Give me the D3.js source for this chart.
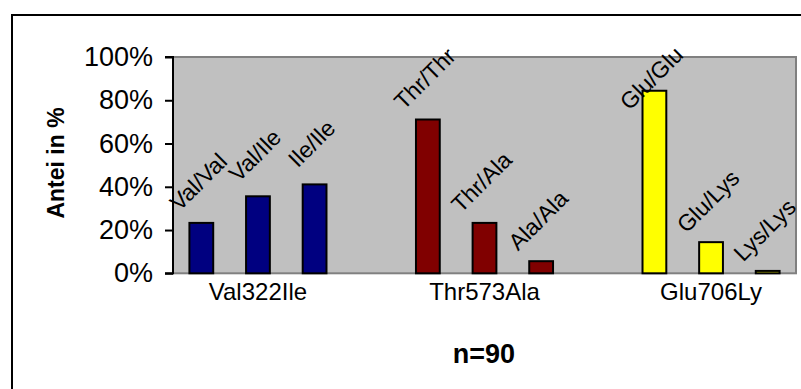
<!DOCTYPE html>
<html>
<head>
<meta charset="utf-8">
<script src="https://cdn.jsdelivr.net/npm/d3@7"></script>
<style>
  html, body { margin: 0; padding: 0; background: #fff; }
  svg { display: block; }
  text { font-family: "Liberation Sans", Arial, sans-serif; fill: #000; }
</style>
</head>
<body>
<svg id="chart" width="801" height="389"></svg>
<script>
// Genotype frequencies (share of n = 90 individuals, in %)
const polymorphisms = ["Val322Ile", "Thr573Ala", "Glu706Ly"];
const genotypes = [
  ["Val/Val", "Val/Ile", "Ile/Ile"],
  ["Thr/Thr", "Thr/Ala", "Ala/Ala"],
  ["Glu/Glu", "Glu/Lys", "Lys/Lys"]
];
const shares = [
  [23.3, 35.6, 41.1],
  [71.1, 23.3, 5.6],
  [84.4, 14.4, 1.1]
];
const groupColors = ["#000080", "#800000", "#ffff00"];
const yTicks = [0, 20, 40, 60, 80, 100];
const yTitle = "Antei in %";
const footnote = "n=90";

const svg = d3.select("#chart");
const W = 801, H = 389;
const plot = { left: 173, right: 796, top: 57, bottom: 273.3 };

// one slot per genotype plus an empty slot between polymorphisms
const slots = [];
genotypes.forEach((g, gi) => {
  g.forEach((name, k) => slots.push({ key: name, name, group: gi, idx: k, value: shares[gi][k] }));
  if (gi < genotypes.length - 1) slots.push({ key: "gap" + gi, gap: true });
});

const x = d3.scaleBand()
  .domain(slots.map(d => d.key))
  .range([plot.left, plot.right])
  .paddingInner(0).paddingOuter(0);

const y = d3.scaleLinear().domain([0, 100]).range([plot.bottom, plot.top]);

// outer chart frame
svg.append("rect")
  .attr("x", 12).attr("y", 15)
  .attr("width", W).attr("height", H)
  .attr("fill", "#fff").attr("stroke", "#000").attr("stroke-width", 2);

// plot background
svg.append("rect")
  .attr("x", plot.left).attr("y", plot.top)
  .attr("width", plot.right - plot.left).attr("height", plot.bottom - plot.top)
  .attr("fill", "#c0c0c0").attr("stroke", "#808080").attr("stroke-width", 2);

// bars
const bars = slots.filter(d => !d.gap);
const barW = x.bandwidth() * 0.42;
svg.append("g").selectAll("rect")
  .data(bars)
  .join("rect")
  .attr("x", d => x(d.key) + (x.bandwidth() - barW) / 2)
  .attr("y", d => y(d.value))
  .attr("width", barW)
  .attr("height", d => y(0) - y(d.value))
  .attr("fill", d => groupColors[d.group])
  .attr("stroke", "#000").attr("stroke-width", 2);

// rotated genotype labels above each bar, kept below the top margin
const labelOffset = 41, labelMinY = 78, labelShift = -3;
svg.append("g").selectAll("text")
  .data(bars)
  .join("text")
  .attr("transform", d => {
    const cx = x(d.key) + x.bandwidth() / 2 + labelShift;
    const cy = Math.max(y(d.value) - labelOffset, labelMinY);
    return `translate(${cx},${cy}) rotate(-45)`;
  })
  .attr("text-anchor", "middle")
  .attr("dominant-baseline", "central")
  .style("font-size", "23px")
  .text(d => d.name);

// y axis
const yAxis = d3.axisLeft(y)
  .tickValues(yTicks)
  .tickFormat(d => d + "%")
  .tickSize(8)
  .tickPadding(12);
const gy = svg.append("g")
  .attr("transform", `translate(${plot.left},0)`)
  .call(yAxis);
gy.select(".domain").attr("stroke", "#000").attr("stroke-width", 2)
  .attr("d", `M-8,${plot.top}H0V${plot.bottom}H-8`);
gy.selectAll(".tick line").attr("stroke", "#000").attr("stroke-width", 2);
gy.selectAll(".tick text")
  .style("font-size", "27px")
  .style("font-family", "'Liberation Sans', Arial, sans-serif")
  .attr("fill", "#000");

// polymorphism labels under the middle genotype of each group
svg.append("g").selectAll("text")
  .data(polymorphisms)
  .join("text")
  .attr("x", (d, i) => x(genotypes[i][1]) + x.bandwidth() / 2)
  .attr("y", 300)
  .attr("text-anchor", "middle")
  .style("font-size", "24px")
  .text(d => d);

// axis title
svg.append("text")
  .attr("transform", `translate(64,163) rotate(-90)`)
  .attr("text-anchor", "middle")
  .style("font-size", "23px")
  .style("font-weight", "bold")
  .text(yTitle);

// sample size note
svg.append("text")
  .attr("x", 484).attr("y", 363)
  .attr("text-anchor", "middle")
  .style("font-size", "27px")
  .style("font-weight", "bold")
  .text(footnote);
</script>
</body>
</html>
